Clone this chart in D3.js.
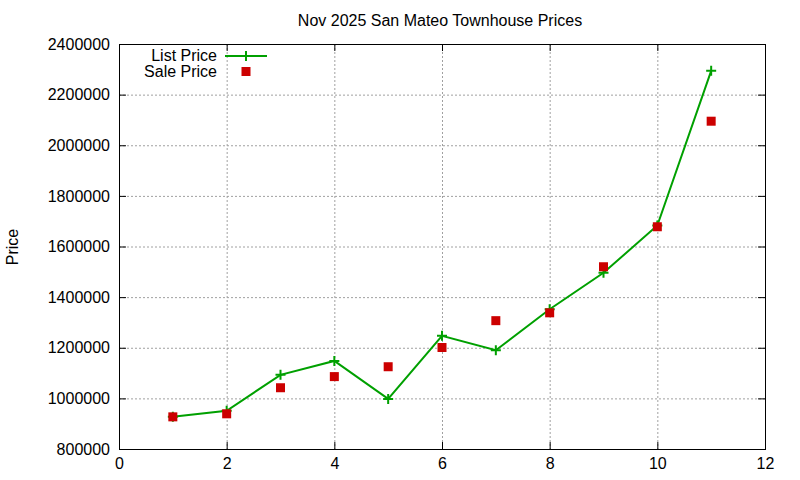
<!DOCTYPE html>
<html>
<head>
<meta charset="utf-8">
<script src="https://cdn.jsdelivr.net/npm/d3@7"></script>
<style>
  body { margin: 0; background: #fff; }
  svg { font-family: "Liberation Sans", Arial, sans-serif; }
</style>
</head>
<body>
<script>
'use strict';

var months = [1, 2, 3, 4, 5, 6, 7, 8, 9, 10, 11];
var listPrice = [927000, 951000, 1093000, 1148000, 998000, 1247000, 1190000, 1352000, 1496000, 1683000, 2294000];
var salePrice = [927000, 939000, 1042000, 1086000, 1125000, 1201000, 1307000, 1338000, 1520000, 1678000, 2095000];
var xTicks = [0, 2, 4, 6, 8, 10, 12];
var yTicks = [800000, 1000000, 1200000, 1400000, 1600000, 1800000, 2000000, 2200000, 2400000];

build();

function build() {
  var width = 800,
    height = 480,
    left = 119,
    right = 765,
    top = 44,
    bottom = 449;

  var svg = d3.select('body').append('svg')
    .attr('width', width)
    .attr('height', height);

  var x = d3.scaleLinear().domain([0, 12]).range([left, right]);
  var y = d3.scaleLinear().domain([800000, 2400000]).range([bottom, top]);

  // grid
  var grid = svg.append('g')
    .attr('stroke', '#a0a0a0')
    .attr('stroke-width', 1)
    .attr('stroke-dasharray', '2,2');

  grid.selectAll('.gx').data(xTicks.slice(1, -1)).enter().append('line')
    .attr('x1', function(d) { return x(d) + 0.5; })
    .attr('x2', function(d) { return x(d) + 0.5; })
    .attr('y1', top)
    .attr('y2', bottom);

  grid.selectAll('.gy').data(yTicks.slice(1, -1)).enter().append('line')
    .attr('x1', left)
    .attr('x2', right)
    .attr('y1', function(d) { return y(d) + 0.5; })
    .attr('y2', function(d) { return y(d) + 0.5; });

  // axes, gnuplot style: inward ticks mirrored
  var fmt = d3.format('d');
  var axes = [
    { axis: d3.axisBottom(x).tickValues(xTicks).tickSizeInner(-7).tickSizeOuter(0).tickPadding(9).tickFormat(fmt), at: 'translate(0,' + bottom + ')' },
    { axis: d3.axisTop(x).tickValues(xTicks).tickSizeInner(-7).tickSizeOuter(0).tickFormat(''), at: 'translate(0,' + top + ')' },
    { axis: d3.axisLeft(y).tickValues(yTicks).tickSizeInner(-7).tickSizeOuter(0).tickPadding(9).tickFormat(fmt), at: 'translate(' + left + ',0)' },
    { axis: d3.axisRight(y).tickValues(yTicks).tickSizeInner(-7).tickSizeOuter(0).tickFormat(''), at: 'translate(' + right + ',0)' }
  ];

  axes.forEach(function(a) {
    var g = svg.append('g').attr('transform', a.at).call(a.axis);
    g.select('.domain').remove();
    g.selectAll('line').attr('stroke', '#000');
    g.selectAll('text').attr('font-size', 16).attr('fill', '#000')
      .attr('font-family', '"Liberation Sans", Arial, sans-serif');
  });

  svg.append('rect')
    .attr('x', left + 0.5)
    .attr('y', top + 0.5)
    .attr('width', right - left)
    .attr('height', bottom - top)
    .attr('fill', 'none')
    .attr('stroke', '#000')
    .attr('stroke-width', 1);

  // title and label
  svg.append('text')
    .attr('x', 440)
    .attr('y', 26)
    .attr('text-anchor', 'middle')
    .attr('font-size', 16)
    .text('Nov 2025 San Mateo Townhouse Prices');

  svg.append('text')
    .attr('transform', 'translate(18,247) rotate(-90)')
    .attr('text-anchor', 'middle')
    .attr('font-size', 16)
    .text('Price');

  // list price line
  var line = d3.line()
    .x(function(d, i) { return x(months[i]); })
    .y(function(d) { return y(d); });

  svg.append('path')
    .datum(listPrice)
    .attr('d', line)
    .attr('fill', 'none')
    .attr('stroke', '#00a000')
    .attr('stroke-width', 2);

  svg.selectAll('.plus').data(listPrice).enter().append('path')
    .attr('d', 'M-5,0H5M0,-5V5')
    .attr('transform', function(d, i) { return 'translate(' + x(months[i]) + ',' + y(d) + ')'; })
    .attr('stroke', '#00a000')
    .attr('stroke-width', 2)
    .attr('fill', 'none');

  // sale price points
  svg.selectAll('.sq').data(salePrice).enter().append('rect')
    .attr('x', function(d, i) { return x(months[i]) - 4.5; })
    .attr('y', function(d) { return y(d) - 4.5; })
    .attr('width', 9)
    .attr('height', 9)
    .attr('fill', '#cc0000');

  // legend
  var legend = svg.append('g').attr('font-size', 16);

  legend.append('text')
    .attr('x', 217)
    .attr('y', 61)
    .attr('text-anchor', 'end')
    .text('List Price');

  legend.append('line')
    .attr('x1', 225)
    .attr('x2', 267)
    .attr('y1', 56)
    .attr('y2', 56)
    .attr('stroke', '#00a000')
    .attr('stroke-width', 2);

  legend.append('path')
    .attr('d', 'M-5,0H5M0,-5V5')
    .attr('transform', 'translate(246,56)')
    .attr('stroke', '#00a000')
    .attr('stroke-width', 2);

  legend.append('text')
    .attr('x', 217)
    .attr('y', 77)
    .attr('text-anchor', 'end')
    .text('Sale Price');

  legend.append('rect')
    .attr('x', 241.5)
    .attr('y', 67)
    .attr('width', 9)
    .attr('height', 9)
    .attr('fill', '#cc0000');
}
</script>
</body>
</html>
